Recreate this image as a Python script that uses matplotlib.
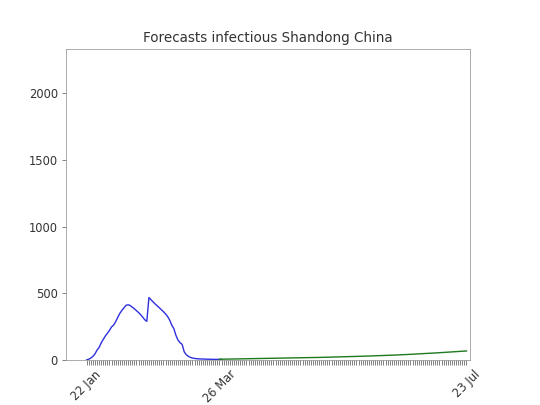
import matplotlib
matplotlib.use('Agg')
import matplotlib.pyplot as plt

# infectious cases, day 0 = 22 Jan
observed = [1, 6, 15, 27, 46, 74, 94, 128, 155, 180,
            200, 222, 248, 262, 288, 320, 350, 372, 392, 410,
            414, 408, 396, 384, 370, 356, 340, 322, 302, 290,
            468, 452, 436, 420, 406, 392, 377, 362, 346, 326,
            300, 262, 236, 186, 150, 130, 118, 62, 40, 28,
            20, 15, 12, 10, 9, 8, 8, 7, 6, 6,
            6, 5, 5, 5, 5, 5]

forecast_days = [64, 71, 78, 85, 92, 99, 106, 113, 120, 127,
                 134, 141, 148, 155, 162, 169, 176, 183]
forecast = [6, 8, 10, 12, 14, 16, 18, 20, 23, 26,
            29, 33, 37, 42, 48, 54, 61, 68]

n_days = 184
label_days = [0, 64, 183]
label_text = ['22 Jan', '26 Mar', '23 Jul']


def main():
    fig = plt.figure(figsize=(7.5, 5.625), dpi=72)
    ax = fig.add_subplot(111)
    fig.subplots_adjust(left=0.122, right=0.870, top=0.879, bottom=0.111)

    ax.plot(range(len(observed)), observed, color='#3030e0', lw=1.4)
    ax.plot(forecast_days, forecast, color='#1f7a1f', lw=1.4)

    ticks = list(range(n_days))
    labels = [''] * n_days
    for d, t in zip(label_days, label_text):
        labels[d] = t
    ax.set_xticks(ticks)
    ax.set_xticklabels(labels, rotation=45)
    ax.set_yticks([0, 500, 1000, 1500, 2000])
    ax.set_xlim(-10, 184.6)
    ax.set_ylim(0, 2330)

    ax.tick_params(colors='#666666', labelcolor='#333333', labelsize=11.5, length=4.5, width=0.8)
    for s in ax.spines.values():
        s.set_color('#999999')
    ax.set_title('Forecasts infectious Shandong China', fontsize=13.5, color='#333333', pad=7)

    fig.savefig('out.png', dpi=72)


if __name__ == '__main__':
    main()
